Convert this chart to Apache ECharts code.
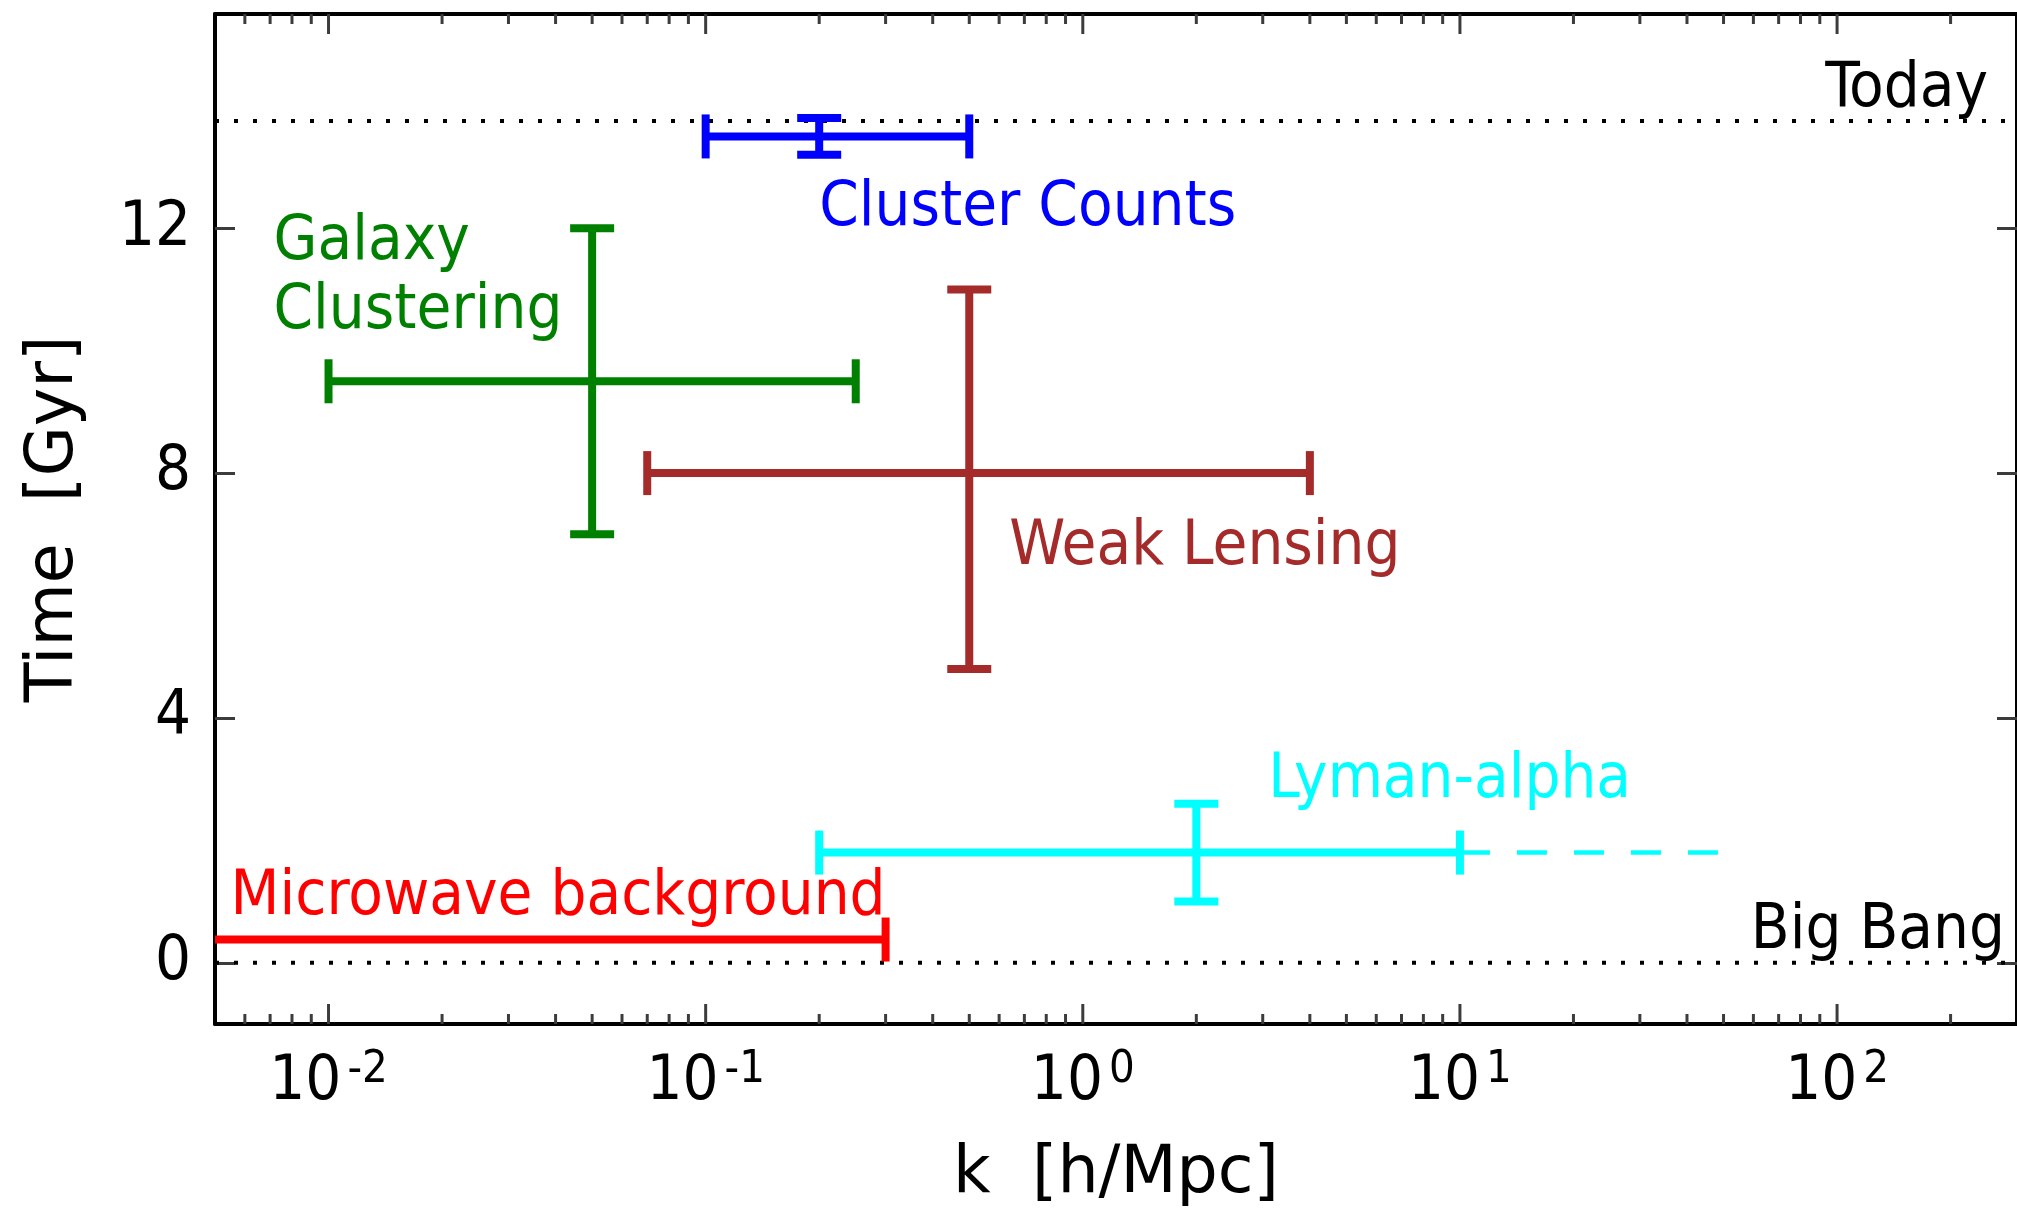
<!DOCTYPE html>
<html>
<head>
<meta charset="utf-8">
<title>Probes of structure: scale vs. cosmic time</title>
<script src="https://cdn.jsdelivr.net/npm/echarts@6/dist/echarts.min.js"></script>
<style>
  html, body { margin: 0; padding: 0; background: #ffffff; }
  #chart { width: 2017px; height: 1213px; }
</style>
</head>
<body>
<div id="chart"></div>
<script>
// ---- data -----------------------------------------------------------------
// Each probe: central scale k [h/Mpc] with its k-range, and central time [Gyr] with its time-range.
const probeNames = ['Microwave background', 'Lyman-alpha', 'Weak Lensing', 'Galaxy\nClustering', 'Cluster Counts'];
const probeK     = [null, 2, 0.5, 0.05, 0.2];
const probeKLow  = [0.001, 0.2, 0.07, 0.01, 0.1];
const probeKHigh = [0.3, 10, 4, 0.25, 0.5];
const probeT     = [0.38, 1.8, 8, 9.5, 13.5];
const probeTLow  = [null, 1.0, 4.8, 7, 13.2];
const probeTHigh = [null, 2.6, 11, 12, 13.8];

// Lyman-alpha reach beyond its firm range (drawn dashed)
const lymanExtK = [10, 50];

// Reference epochs
const epochNames = ['Today', 'Big Bang'];
const epochT = [13.75, 0];

// Axes
const kRange = [0.005, 300];
const tRange = [-1, 15.5];
const timeTicks = [0, 4, 8, 12];
const kMajorTicks = [0.01, 0.1, 1, 10, 100];
const kMinorTicks = [
  0.006, 0.007, 0.008, 0.009,
  0.02, 0.03, 0.04, 0.05, 0.06, 0.07, 0.08, 0.09,
  0.2, 0.3, 0.4, 0.5, 0.6, 0.7, 0.8, 0.9,
  2, 3, 4, 5, 6, 7, 8, 9,
  20, 30, 40, 50, 60, 70, 80, 90,
  200
];

// ---- styling --------------------------------------------------------------
const probeColors = ['#ff0000', '#00ffff', '#a52a2a', '#008000', '#0000ff'];
const FONT = "'DejaVu Sans Condensed', 'DejaVu Sans', sans-serif";
const TITLE_FONT = "'DejaVu Sans', sans-serif";
const TEXT_SIZE = 63;
const BAR_WIDTH = 8;
const CAP_HALF = 22;

// label placement relative to a point of each probe's bar (pixel offsets)
const probeLabelLayout = [
  { k: 'high',   t: 'mid',  dx: 0,   dy: -42, align: 'right' },
  { k: 'center', t: 'high', dx: 72,  dy: -23, align: 'left' },
  { k: 'center', t: 'mid',  dx: 40,  dy: 75,  align: 'left' },
  { k: 'low',    t: 'high', dx: -55, dy: 49,  align: 'left' },
  { k: 'center', t: 'low',  dx: 0,   dy: 54,  align: 'left' }
];
const epochLabelLayout = [
  { dx: -29, dy: -31 },
  { dx: -12, dy: -31 }
];

function pickK(i, which) {
  if (which === 'low') return probeKLow[i];
  if (which === 'high') return probeKHigh[i];
  return probeK[i];
}
function pickT(i, which) {
  if (which === 'low') return probeTLow[i];
  if (which === 'high') return probeTHigh[i];
  return probeT[i];
}

function line(x1, y1, x2, y2, stroke, width) {
  return {
    type: 'line',
    shape: { x1: x1, y1: y1, x2: x2, y2: y2 },
    style: { stroke: stroke, lineWidth: width, lineCap: 'butt' }
  };
}

// Error bars (cross with caps) for each probe, plus its label
function renderProbe(params, api) {
  const i = params.dataIndex;
  const cs = params.coordSys;
  const color = probeColors[i];
  const left = cs.x, right = cs.x + cs.width;
  const children = [];

  const y = api.coord([kRange[0], probeT[i]])[1];
  const xLo = api.coord([probeKLow[i], probeT[i]])[0];
  const xHi = api.coord([probeKHigh[i], probeT[i]])[0];

  // horizontal range
  children.push(line(Math.max(xLo, left), y, Math.min(xHi, right), y, color, BAR_WIDTH));
  if (xLo >= left) children.push(line(xLo, y - CAP_HALF, xLo, y + CAP_HALF, color, BAR_WIDTH));
  if (xHi <= right) children.push(line(xHi, y - CAP_HALF, xHi, y + CAP_HALF, color, BAR_WIDTH));

  // vertical range
  if (probeK[i] !== null && probeTLow[i] !== null) {
    const x = api.coord([probeK[i], probeT[i]])[0];
    const yLo = api.coord([probeK[i], probeTLow[i]])[1];
    const yHi = api.coord([probeK[i], probeTHigh[i]])[1];
    children.push(line(x, yLo, x, yHi, color, BAR_WIDTH));
    children.push(line(x - CAP_HALF, yLo, x + CAP_HALF, yLo, color, BAR_WIDTH));
    children.push(line(x - CAP_HALF, yHi, x + CAP_HALF, yHi, color, BAR_WIDTH));
  }

  // label
  const lay = probeLabelLayout[i];
  const anchor = api.coord([pickK(i, lay.k), pickT(i, lay.t)]);
  children.push({
    type: 'text',
    x: anchor[0] + lay.dx,
    y: anchor[1] + lay.dy,
    style: {
      text: probeNames[i],
      fill: color,
      font: TEXT_SIZE + 'px ' + FONT,
      lineHeight: 69,
      align: lay.align,
      verticalAlign: 'middle'
    }
  });

  return { type: 'group', children: children };
}

// Tick marks of the logarithmic k axis, drawn on bottom and top frame edges
function makeTickRenderer(len) {
  return function (params, api) {
    const cs = params.coordSys;
    const x = api.coord([api.value(0), tRange[0]])[0];
    const st = { stroke: '#3c3c3c', lineWidth: 3 };
    return {
      type: 'group',
      children: [
        { type: 'line', shape: { x1: x, y1: cs.y + cs.height, x2: x, y2: cs.y + cs.height - len }, style: st },
        { type: 'line', shape: { x1: x, y1: cs.y, x2: x, y2: cs.y + len }, style: st }
      ]
    };
  };
}

// Epoch labels
function renderEpochLabel(params, api) {
  const i = params.dataIndex;
  const p = api.coord([kRange[1], epochT[i]]);
  const lay = epochLabelLayout[i];
  return {
    type: 'text',
    x: p[0] + lay.dx,
    y: p[1] + lay.dy,
    style: {
      text: epochNames[i],
      fill: '#000',
      font: TEXT_SIZE + 'px ' + FONT,
      align: 'right',
      verticalAlign: 'middle'
    }
  };
}

function isMajorK(v) {
  return kMajorTicks.some(function (t) { return Math.abs(v - t) / t < 1e-6; });
}

const frame = { show: true, onZero: false, lineStyle: { color: '#000', width: 4 } };

const chart = echarts.init(document.getElementById('chart'), null, { renderer: 'canvas' });

const epochSeries = epochT.map(function (t) {
  return {
    type: 'line',
    data: [[kRange[0], t], [kRange[1], t]],
    symbol: 'none',
    silent: true,
    z: 1,
    lineStyle: { color: '#000', width: 4, type: [4, 15] }
  };
});

chart.setOption({
  animation: false,
  backgroundColor: '#ffffff',
  grid: { left: 215, right: -2, top: 14, bottom: 180, containLabel: false },
  xAxis: [
    {
      type: 'log', logBase: 10, min: kRange[0], max: kRange[1], position: 'bottom',
      axisLine: frame, axisTick: { show: false }, splitLine: { show: false },
      axisLabel: {
        show: true, margin: 24, showMinLabel: false, showMaxLabel: false, color: '#000',
        formatter: function (v) {
          if (!isMajorK(v)) return '';
          const e = Math.round(Math.log10(v));
          return '{b|10}{s|' + (e < 0 ? '-' : '') + Math.abs(e) + '}';
        },
        rich: {
          b: { fontSize: TEXT_SIZE, fontFamily: FONT, color: '#000', lineHeight: 70 },
          s: { fontSize: 45, fontFamily: FONT, color: '#000', lineHeight: 18, verticalAlign: 'top', padding: [0, 0, 0, 6] }
        }
      },
      name: 'k  [h/Mpc]', nameLocation: 'middle', nameGap: 119,
      nameTextStyle: { fontSize: 65, fontFamily: TITLE_FONT, color: '#000' }
    },
    {
      type: 'log', logBase: 10, min: kRange[0], max: kRange[1], position: 'top',
      axisLine: frame, axisTick: { show: false }, axisLabel: { show: false }, splitLine: { show: false }
    }
  ],
  yAxis: [
    {
      type: 'value', min: tRange[0], max: tRange[1], position: 'left',
      axisLine: frame,
      axisTick: { show: true, inside: true, length: 20, customValues: timeTicks, lineStyle: { color: '#3c3c3c', width: 3 } },
      axisLabel: { show: true, customValues: timeTicks, margin: 24, fontSize: TEXT_SIZE, fontFamily: FONT, color: '#000' },
      splitLine: { show: false },
      name: 'Time  [Gyr]', nameLocation: 'middle', nameGap: 127, nameRotate: 90,
      nameTextStyle: { fontSize: 65, fontFamily: TITLE_FONT, color: '#000' }
    },
    {
      type: 'value', min: tRange[0], max: tRange[1], position: 'right',
      axisLine: frame,
      axisTick: { show: true, inside: true, length: 20, customValues: timeTicks, lineStyle: { color: '#3c3c3c', width: 3 } },
      axisLabel: { show: false }, splitLine: { show: false }
    }
  ],
  series: epochSeries.concat([
    {
      type: 'line',
      data: lymanExtK.map(function (k) { return [k, probeT[1]]; }),
      symbol: 'none', silent: true, z: 2,
      lineStyle: { color: probeColors[1], width: 4.5, type: [30, 27] }
    },
    {
      type: 'custom', silent: true, z: 3,
      renderItem: renderProbe,
      data: probeNames.map(function (n, i) { return [probeKHigh[i], probeT[i]]; })
    },
    {
      type: 'custom', silent: true, z: 4,
      renderItem: renderEpochLabel,
      data: epochT.map(function (t) { return [kRange[1], t]; })
    },
    {
      type: 'custom', silent: true, z: 5,
      renderItem: makeTickRenderer(20),
      data: kMajorTicks.map(function (k) { return [k, tRange[0]]; })
    },
    {
      type: 'custom', silent: true, z: 5,
      renderItem: makeTickRenderer(10),
      data: kMinorTicks.map(function (k) { return [k, tRange[0]]; })
    }
  ])
});
</script>
</body>
</html>
